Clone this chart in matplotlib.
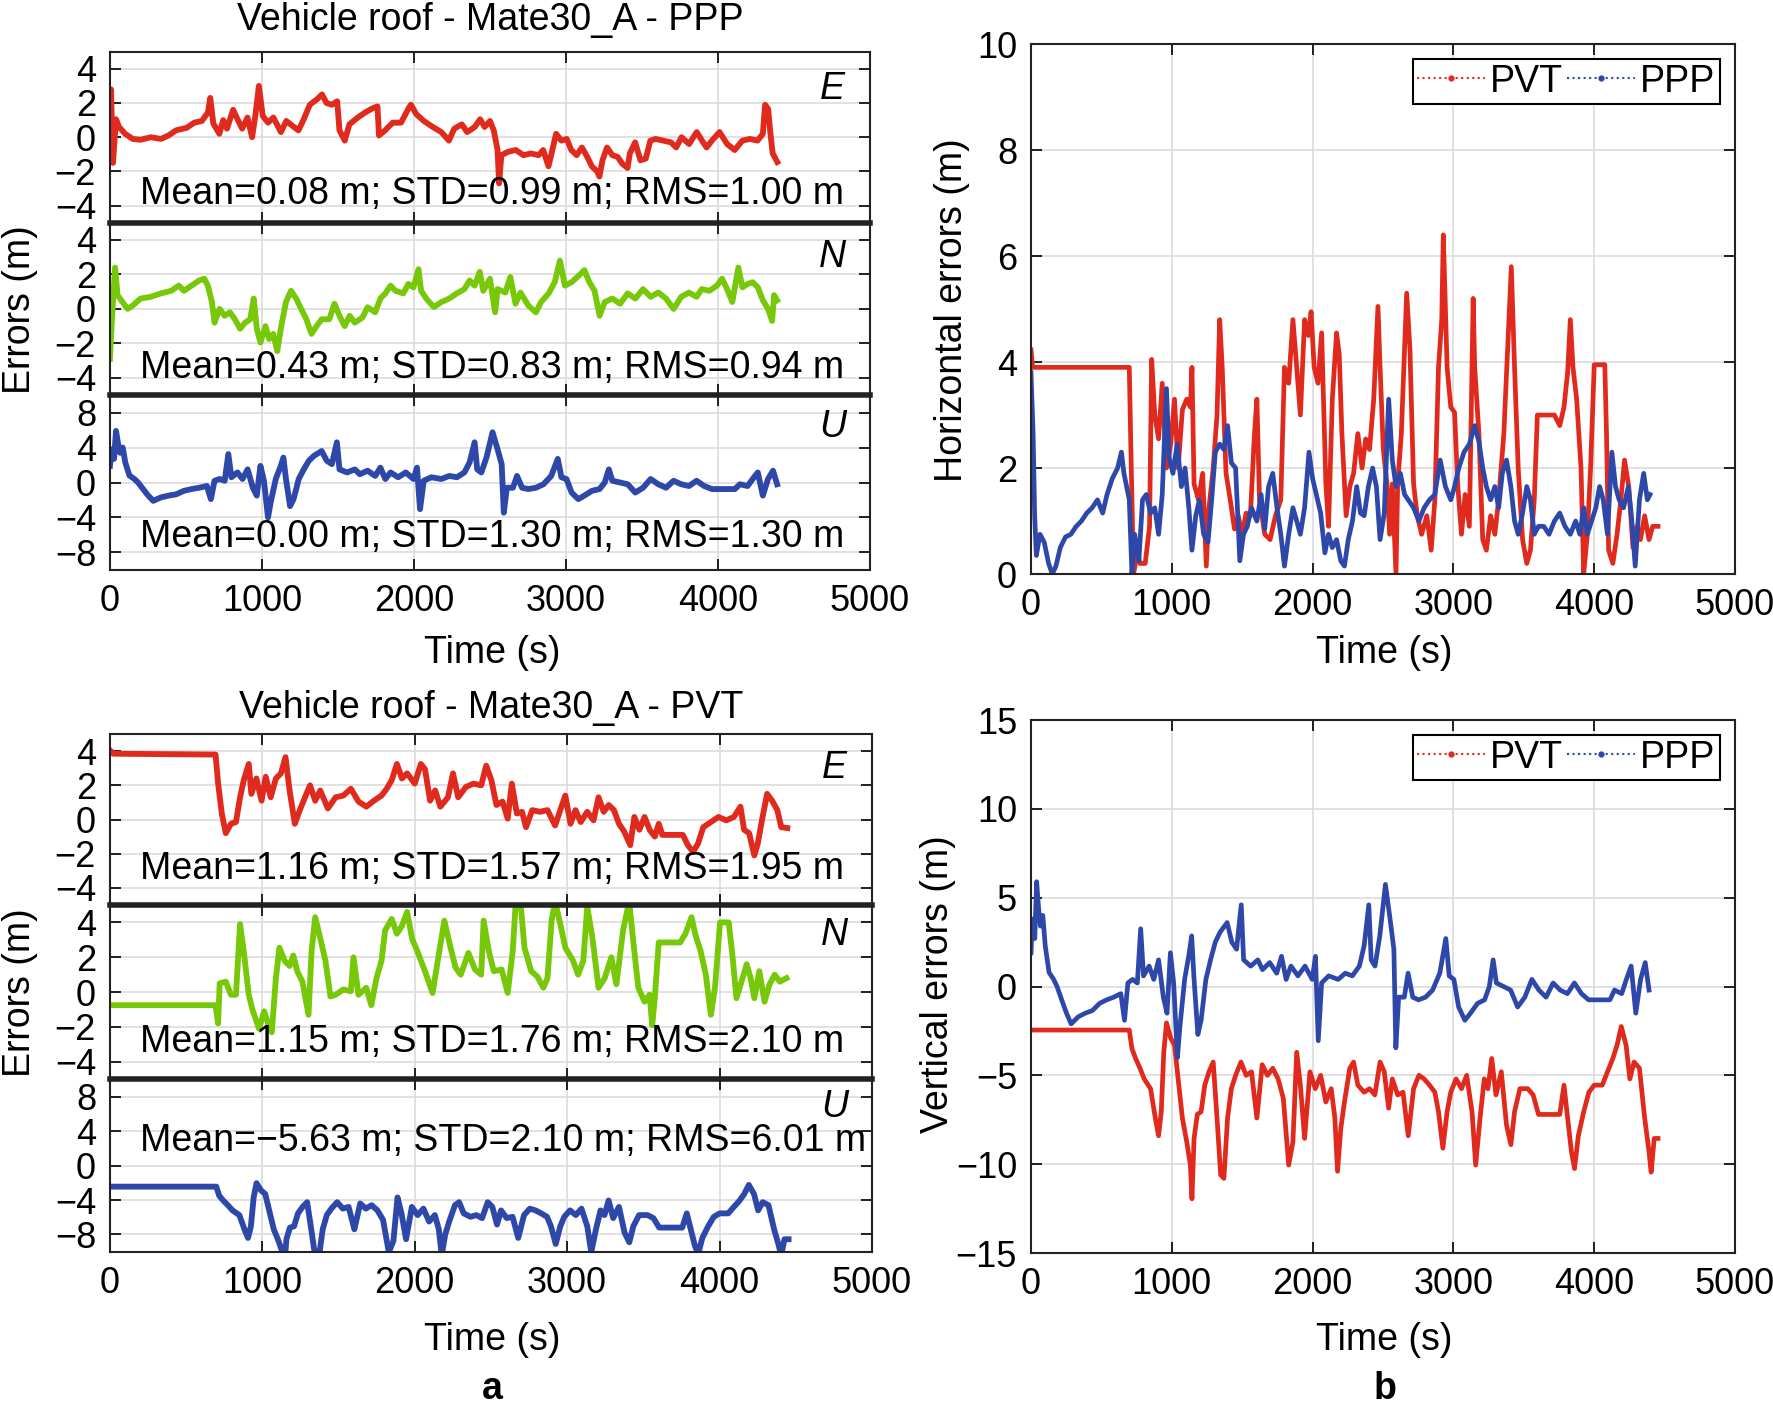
import matplotlib
matplotlib.use("Agg")
import matplotlib.pyplot as plt
from matplotlib.lines import Line2D

plt.rcParams["font.family"] = ["Liberation Sans", "DejaVu Sans"]
plt.rcParams["font.size"] = 27

# ---------------- data (time s, error m) ----------------
ppp_e = [(0, -0.2), (7, 2.8), (20, -1.5), (40, 1.05), (60, 0.6), (100, 0.2), (150, -0.1), (200, -0.15), (270, 0.0), (335, -0.1),
         (385, 0.1), (435, 0.4), (505, 0.55), (555, 0.85), (605, 0.95), (645, 1.45), (660, 2.3), (680, 0.8), (720, 0.2), (745, 1.0),
         (770, 0.5), (810, 1.6), (845, 0.95), (870, 0.5), (905, 1.15), (935, 0.0), (955, 1.15), (980, 3.0), (1005, 1.25), (1040, 0.85),
         (1075, 1.15), (1125, 0.3), (1160, 0.95), (1210, 0.6), (1240, 0.4), (1275, 1.05), (1315, 1.9), (1360, 2.2), (1395, 2.5), (1425, 2.0),
         (1460, 1.9), (1495, 2.1), (1510, 0.4), (1545, -0.2), (1575, 0.75), (1630, 1.15), (1680, 1.45), (1730, 1.7), (1760, 1.8), (1770, 0.1),
         (1810, 0.4), (1860, 0.85), (1915, 0.85), (1965, 1.7), (1980, 1.9), (2015, 1.35), (2065, 0.95), (2115, 0.65), (2180, 0.3), (2230, -0.2),
         (2265, 0.5), (2315, 0.75), (2350, 0.3), (2400, 0.6), (2435, 1.05), (2465, 0.6), (2500, 0.95), (2525, 0.4), (2550, -0.75), (2560, -2.7),
         (2575, -1.05), (2620, -0.85), (2670, -0.75), (2720, -1.05), (2770, -0.95), (2820, -1.05), (2850, -0.75), (2885, -1.7), (2905, -0.95), (2935, 0.2),
         (2970, -0.2), (3005, -0.1), (3035, -0.75), (3070, -1.05), (3105, -0.6), (3140, -1.15), (3170, -1.7), (3205, -2.0), (3220, -2.3), (3240, -1.35),
         (3270, -0.6), (3305, -1.05), (3340, -1.15), (3370, -1.55), (3405, -1.8), (3420, -0.95), (3455, -0.3), (3490, -1.35), (3525, -1.25), (3555, -0.2),
         (3590, -0.1), (3640, -0.2), (3690, -0.3), (3725, -0.6), (3760, 0.0), (3810, -0.4), (3860, 0.3), (3895, -0.2), (3925, -0.6), (3960, -0.2),
         (4010, 0.3), (4060, -0.4), (4110, -0.75), (4160, -0.2), (4210, -0.1), (4260, -0.2), (4295, 0.2), (4310, 1.9), (4330, 1.65), (4345, 0.2),
         (4360, -0.95), (4390, -1.45)]

ppp_n = [(0, -2.9), (10, -1.15), (20, 0.4), (34, 2.4), (50, 0.8), (74, 0.5), (117, 0.0), (151, 0.2), (201, 0.6), (268, 0.7),
         (336, 0.9), (403, 1.05), (453, 1.35), (487, 1.05), (537, 1.35), (587, 1.65), (621, 1.75), (644, 1.35), (671, 0.4), (688, -0.8),
         (721, 0.0), (755, -0.4), (789, -0.2), (822, -0.6), (856, -1.15), (889, -0.8), (923, -0.6), (946, 0.6), (966, -1.15), (990, -1.95),
         (1023, -1.0), (1047, -1.75), (1074, -1.45), (1101, -2.45), (1124, -1.15), (1158, 0.4), (1191, 1.05), (1225, 0.6), (1258, 0.0), (1292, -0.6),
         (1326, -1.45), (1359, -1.0), (1393, -0.6), (1443, -0.6), (1477, 0.3), (1510, -0.4), (1544, -1.0), (1577, -0.4), (1611, -0.8), (1661, -0.5),
         (1695, 0.1), (1745, -0.2), (1779, 0.6), (1812, 0.9), (1846, 1.35), (1879, 1.05), (1930, 0.9), (1963, 1.45), (1997, 1.25), (2030, 2.3),
         (2047, 1.05), (2081, 0.6), (2131, 0.1), (2181, 0.4), (2232, 0.6), (2282, 0.9), (2332, 1.15), (2366, 1.65), (2399, 1.35), (2433, 2.15),
         (2456, 1.05), (2500, 1.75), (2534, -0.2), (2550, 1.15), (2601, 0.95), (2634, 1.85), (2668, 0.3), (2701, 0.95), (2752, 0.2), (2802, -0.2),
         (2836, 0.4), (2886, 0.9), (2926, 1.55), (2960, 2.8), (2993, 1.35), (3037, 1.55), (3087, 1.95), (3121, 2.25), (3154, 1.55), (3188, 1.05),
         (3221, -0.4), (3255, 0.4), (3305, 0.6), (3356, 0.3), (3406, 0.9), (3456, 0.6), (3507, 1.15), (3557, 0.7), (3607, 0.95), (3658, 0.6),
         (3708, 0.0), (3758, 0.7), (3809, 0.95), (3859, 0.7), (3893, 1.15), (3943, 1.05), (3993, 1.35), (4027, 1.75), (4060, 1.15), (4094, 0.4),
         (4134, 2.4), (4161, 1.25), (4195, 1.45), (4228, 1.55), (4262, 1.25), (4295, 0.5), (4329, 0.0), (4356, -0.7), (4369, 0.8), (4389, 0.5)]

ppp_u = [(0, 1.9), (10, 3.8), (27, 2.7), (40, 5.9), (54, 4.4), (67, 3.4), (84, 4.0), (101, 2.3), (128, 0.8), (161, 0.4),
         (185, 0.0), (218, -0.75), (252, -1.5), (285, -2.1), (336, -1.7), (386, -1.5), (436, -1.35), (487, -0.95), (537, -0.75), (587, -0.6),
         (638, -0.4), (664, -1.9), (688, 0.2), (721, 0.4), (755, 0.2), (779, 3.25), (799, 0.6), (839, 1.15), (872, 0.4), (906, 1.5),
         (940, -0.6), (966, -1.5), (990, 1.9), (1013, 0.2), (1040, -4.0), (1057, -2.3), (1091, 0.4), (1124, 1.9), (1141, 2.85), (1158, 0.4),
         (1185, -2.7), (1208, -1.9), (1242, 0.4), (1275, 1.5), (1309, 2.5), (1342, 3.05), (1393, 3.6), (1426, 2.5), (1460, 2.1), (1493, 4.6),
         (1510, 1.5), (1560, 1.15), (1611, 1.5), (1644, 0.95), (1695, 1.35), (1745, 0.75), (1779, 1.7), (1812, 0.4), (1846, 1.15), (1896, 0.6),
         (1946, 1.15), (1997, 0.4), (2020, 1.7), (2040, -3.05), (2064, 0.2), (2114, 0.6), (2181, 0.4), (2232, 0.75), (2282, 0.6), (2332, 1.15),
         (2366, 2.3), (2399, 4.6), (2416, 1.5), (2443, 1.15), (2477, 2.85), (2517, 5.75), (2550, 3.8), (2577, 2.1), (2591, -3.45), (2611, -0.6),
         (2651, -0.6), (2678, 0.75), (2711, -0.6), (2752, -0.75), (2802, -0.6), (2852, -0.2), (2903, 0.75), (2946, 2.7), (2970, 0.6), (3003, 0.4),
         (3037, -1.15), (3081, -1.9), (3121, -1.5), (3171, -0.95), (3221, -0.75), (3255, 0.0), (3282, 1.5), (3305, 0.2), (3356, 0.0), (3406, -0.2),
         (3456, -1.15), (3507, -0.6), (3557, 0.4), (3607, -0.2), (3658, -0.6), (3708, 0.2), (3758, -0.2), (3809, -0.4), (3859, 0.2), (3909, -0.4),
         (3960, -0.75), (4010, -0.75), (4060, -0.75), (4111, -0.75), (4144, -0.2), (4195, -0.4), (4228, 0.4), (4262, 1.15), (4295, -1.5), (4329, 0.4),
         (4362, 1.35), (4389, -0.2)]

pvt_e = [(0, 4.05), (23, 3.85), (693, 3.8), (710, 2.1), (734, 0.35), (760, -0.8), (794, -0.25), (827, -0.15), (854, 1.3), (878, 2.3),
         (911, 3.25), (928, 1.5), (961, 2.4), (995, 1.1), (1022, 2.5), (1055, 1.3), (1089, 2.4), (1122, 2.7), (1152, 3.65), (1179, 1.7),
         (1213, -0.25), (1246, 0.55), (1280, 1.3), (1313, 2.0), (1347, 1.1), (1380, 1.7), (1430, 0.65), (1481, 1.3), (1531, 1.4), (1581, 1.8),
         (1631, 1.05), (1682, 0.75), (1732, 1.1), (1782, 1.4), (1816, 1.8), (1849, 2.3), (1883, 3.25), (1916, 2.4), (1950, 2.7), (2000, 2.1),
         (2040, 3.25), (2067, 2.95), (2101, 1.1), (2134, 1.7), (2168, 0.75), (2218, 1.3), (2251, 2.7), (2285, 1.3), (2335, 1.9), (2385, 2.1),
         (2436, 2.0), (2469, 3.15), (2503, 2.3), (2536, 0.85), (2576, 1.05), (2610, 0.05), (2637, 2.1), (2670, 0.35), (2704, 0.45), (2730, -0.45),
         (2771, 0.55), (2821, 0.45), (2871, 0.55), (2921, -0.35), (2955, 0.55), (2988, 1.4), (3022, -0.25), (3055, 0.55), (3089, -0.15), (3132, 0.45),
         (3173, -0.05), (3206, 1.3), (3240, 0.45), (3273, 0.85), (3307, 0.55), (3340, -0.25), (3374, -0.7), (3414, -1.5), (3441, 0.15), (3474, -0.6),
         (3508, 0.15), (3541, -0.6), (3575, -1.0), (3601, -0.25), (3625, -0.9), (3692, -0.9), (3759, -0.9), (3792, -1.5), (3826, -1.9), (3859, -1.4),
         (3893, -0.45), (3943, -0.15), (3993, 0.15), (4044, -0.05), (4094, 0.15), (4137, 0.75), (4161, -0.6), (4194, -0.8), (4228, -2.1), (4251, -1.4),
         (4278, -0.05), (4312, 1.5), (4345, 1.1), (4379, 0.55), (4405, -0.45), (4445, -0.5)]

pvt_n = [(0, -0.75), (693, -0.75), (710, -1.8), (720, 0.5), (760, 0.6), (794, -0.15), (827, -0.15), (854, 3.9), (878, 2.35), (911, -0.15),
         (935, -1.0), (978, -2.1), (1012, -1.1), (1045, -2.0), (1062, -2.3), (1089, 0.8), (1112, 2.55), (1146, 1.8), (1179, 1.5), (1203, 2.1),
         (1229, 1.2), (1263, 0.6), (1303, -1.3), (1323, 2.35), (1347, 4.3), (1380, 3.1), (1414, 1.8), (1447, -0.25), (1481, -0.15), (1531, 0.15),
         (1581, 0.05), (1598, 2.0), (1631, -0.15), (1682, 0.25), (1715, -0.75), (1749, 0.8), (1782, 1.8), (1806, 3.55), (1849, 4.2), (1883, 3.35),
         (1916, 3.8), (1950, 4.6), (1983, 3.05), (2017, 2.35), (2067, 1.2), (2117, -0.05), (2151, 1.8), (2194, 4.1), (2235, 2.55), (2268, 1.4),
         (2302, 1.0), (2352, 2.25), (2395, 1.3), (2436, 1.0), (2452, 4.1), (2486, 2.35), (2519, 1.2), (2570, 1.3), (2610, -0.05), (2643, 2.35),
         (2663, 5.2), (2697, 4.85), (2720, 2.55), (2764, 1.2), (2804, 0.9), (2844, 0.25), (2871, 0.8), (2898, 4.1), (2921, 5.2), (2955, 3.9),
         (2988, 2.55), (3039, 1.8), (3072, 1.0), (3106, 1.8), (3132, 4.9), (3166, 3.1), (3206, 0.25), (3246, 0.8), (3290, 2.0), (3323, 0.45),
         (3367, 3.55), (3407, 5.2), (3434, 2.9), (3467, 0.25), (3508, -0.55), (3541, -0.15), (3558, -1.9), (3575, -0.35), (3601, 2.85), (3742, 2.85),
         (3776, 3.35), (3816, 4.3), (3843, 3.25), (3876, 2.35), (3910, 1.0), (3926, -0.15), (3943, -1.3), (3970, 0.25), (4003, 4.0), (4060, 4.0),
         (4084, 2.15), (4111, -0.35), (4144, 0.6), (4178, 1.6), (4204, 0.8), (4228, -0.35), (4261, 1.2), (4295, -0.55), (4328, 0.45), (4362, 1.0),
         (4395, 0.6), (4439, 0.8)]

pvt_u = [(0, -2.45), (698, -2.45), (717, -3.5), (743, -4.05), (774, -4.6), (804, -5.2), (849, -5.75), (887, -7.6), (906, -8.4), (925, -7.05),
         (943, -3.7), (962, -2.05), (992, -2.9), (1019, -3.3), (1045, -5.2), (1075, -7.4), (1106, -8.75), (1132, -10.05), (1143, -11.95), (1158, -8.55),
         (1181, -7.2), (1208, -7.05), (1234, -5.55), (1264, -4.8), (1294, -4.25), (1321, -7.4), (1347, -10.6), (1370, -10.8), (1396, -7.4), (1423, -5.75),
         (1453, -5.0), (1491, -4.25), (1528, -5.0), (1566, -4.8), (1604, -7.4), (1642, -4.4), (1679, -5.0), (1717, -4.6), (1755, -5.2), (1792, -6.3),
         (1830, -10.05), (1860, -8.75), (1887, -3.7), (1913, -5.55), (1943, -8.55), (1981, -4.8), (2019, -5.75), (2057, -5.0), (2094, -6.5), (2132, -5.75),
         (2158, -7.4), (2177, -10.4), (2200, -8.0), (2226, -6.5), (2264, -4.6), (2291, -4.25), (2321, -5.55), (2366, -5.95), (2404, -5.75), (2442, -6.1),
         (2479, -4.25), (2509, -4.8), (2540, -6.85), (2566, -5.2), (2604, -6.1), (2642, -5.95), (2679, -8.4), (2717, -5.75), (2755, -5.0), (2792, -5.2),
         (2830, -5.55), (2868, -5.95), (2894, -7.05), (2925, -9.1), (2955, -7.05), (2981, -5.95), (3019, -5.2), (3057, -5.75), (3094, -5.0), (3132, -7.05),
         (3158, -10.05), (3189, -7.4), (3219, -5.2), (3245, -5.75), (3272, -4.05), (3302, -6.1), (3340, -4.8), (3377, -7.8), (3408, -8.9), (3434, -7.05),
         (3472, -5.75), (3528, -5.75), (3566, -6.1), (3604, -7.2), (3755, -7.2), (3785, -5.55), (3811, -7.4), (3838, -9.3), (3860, -10.25), (3887, -8.4),
         (3925, -7.05), (3962, -5.95), (4000, -5.55), (4057, -5.55), (4094, -4.8), (4132, -4.05), (4162, -3.3), (4192, -2.25), (4226, -3.3), (4253, -5.2),
         (4283, -4.25), (4321, -4.6), (4358, -7.4), (4389, -9.3), (4404, -10.45), (4426, -8.55), (4453, -8.55)]

pvt_h = [(0, 4.23), (11, 3.9), (698, 3.9), (709, 2.4), (728, 0.0), (755, 0.4), (774, 0.2), (811, 0.2), (842, 0.9), (857, 4.05),
         (879, 3.0), (906, 2.55), (932, 3.6), (962, 2.0), (992, 2.45), (1019, 3.3), (1045, 2.0), (1075, 3.1), (1106, 3.3), (1132, 3.15),
         (1143, 3.9), (1158, 1.7), (1189, 1.4), (1219, 1.9), (1245, 0.15), (1264, 1.25), (1294, 2.0), (1321, 3.0), (1340, 4.8), (1358, 3.9),
         (1385, 1.9), (1415, 1.4), (1445, 0.85), (1472, 1.1), (1498, 0.75), (1528, 1.15), (1558, 1.1), (1585, 2.55), (1604, 3.3), (1623, 1.4),
         (1660, 0.75), (1698, 0.65), (1736, 1.1), (1774, 1.4), (1800, 3.9), (1830, 3.6), (1860, 4.8), (1887, 3.9), (1913, 3.0), (1943, 4.8),
         (1970, 4.5), (1989, 4.95), (2011, 3.9), (2038, 3.6), (2064, 4.55), (2094, 1.7), (2113, 0.9), (2140, 3.3), (2170, 4.55), (2189, 4.15),
         (2208, 2.65), (2238, 1.1), (2264, 1.65), (2291, 1.9), (2321, 2.65), (2351, 2.0), (2377, 2.55), (2404, 2.35), (2434, 3.3), (2464, 5.05),
         (2479, 3.9), (2502, 2.35), (2528, 1.7), (2547, 0.75), (2566, 1.7), (2592, 0.0), (2604, 1.7), (2630, 2.65), (2653, 4.25), (2668, 5.3),
         (2691, 4.25), (2717, 1.7), (2743, 1.1), (2774, 0.75), (2811, 1.1), (2842, 0.45), (2868, 1.4), (2894, 3.9), (2917, 4.8), (2928, 6.4),
         (2955, 3.9), (2981, 3.15), (3008, 3.05), (3030, 1.7), (3057, 0.75), (3083, 1.5), (3113, 0.9), (3140, 5.2), (3151, 3.9), (3181, 2.65),
         (3208, 0.65), (3234, 0.45), (3264, 1.1), (3294, 0.75), (3321, 1.4), (3358, 2.65), (3385, 4.25), (3411, 5.8), (3434, 3.9), (3460, 2.0),
         (3491, 0.65), (3521, 0.2), (3547, 0.45), (3574, 1.4), (3596, 3.0), (3717, 3.0), (3755, 2.8), (3785, 3.15), (3811, 3.8), (3830, 4.8),
         (3849, 3.9), (3875, 3.3), (3906, 2.0), (3925, 0.0), (3951, 0.75), (3974, 2.0), (4000, 3.95), (4075, 3.95), (4087, 2.65), (4102, 0.45),
         (4132, 0.2), (4162, 0.75), (4189, 1.4), (4215, 2.15), (4245, 1.65), (4275, 0.5), (4302, 0.9), (4328, 0.65), (4358, 1.1), (4389, 0.65),
         (4415, 0.9), (4453, 0.9)]

ppp_h = [(0, 3.8), (15, 2.65), (26, 1.1), (38, 0.35), (64, 0.75), (94, 0.6), (125, 0.2), (151, 0.0), (177, 0.15), (208, 0.5),
         (245, 0.7), (283, 0.75), (321, 0.9), (358, 1.0), (396, 1.15), (434, 1.25), (472, 1.4), (509, 1.15), (540, 1.5), (577, 1.8),
         (615, 2.0), (642, 2.3), (660, 1.9), (679, 1.65), (698, 1.4), (717, 0.0), (736, 0.75), (766, 0.25), (792, 1.4), (819, 1.5),
         (849, 1.15), (879, 1.25), (906, 0.75), (932, 1.5), (962, 3.5), (981, 2.2), (1008, 1.9), (1038, 2.45), (1068, 1.65), (1094, 2.0),
         (1121, 1.25), (1143, 0.45), (1170, 1.1), (1196, 1.4), (1226, 0.75), (1257, 0.6), (1283, 1.4), (1309, 2.3), (1340, 2.45), (1370, 2.35),
         (1396, 2.8), (1423, 2.1), (1453, 2.0), (1483, 0.25), (1509, 0.75), (1536, 0.9), (1566, 1.25), (1604, 1.0), (1634, 1.5), (1660, 0.85),
         (1687, 1.65), (1717, 1.9), (1747, 1.25), (1774, 0.75), (1800, 0.15), (1830, 0.75), (1860, 1.25), (1887, 1.0), (1913, 0.75), (1943, 1.25),
         (1974, 2.3), (2000, 1.8), (2026, 1.5), (2057, 1.15), (2087, 0.4), (2113, 0.75), (2140, 0.5), (2170, 0.65), (2200, 0.25), (2226, 0.15),
         (2253, 0.65), (2283, 1.0), (2313, 1.65), (2340, 1.15), (2366, 1.1), (2396, 1.65), (2426, 2.0), (2453, 1.65), (2479, 0.65), (2509, 1.15),
         (2540, 3.3), (2566, 2.15), (2592, 1.65), (2623, 1.9), (2653, 1.5), (2679, 1.4), (2717, 1.25), (2755, 1.0), (2792, 1.25), (2830, 1.4),
         (2868, 1.5), (2906, 2.15), (2943, 1.65), (2981, 1.4), (3008, 1.65), (3038, 2.0), (3075, 2.3), (3113, 2.45), (3151, 2.8), (3181, 2.5),
         (3208, 2.0), (3234, 1.65), (3264, 1.4), (3294, 1.65), (3321, 1.25), (3347, 1.9), (3377, 2.15), (3408, 1.65), (3434, 1.0), (3460, 0.75),
         (3491, 1.15), (3521, 1.65), (3547, 1.4), (3574, 0.75), (3604, 0.9), (3642, 0.9), (3679, 0.75), (3717, 1.0), (3755, 1.15), (3792, 0.9),
         (3830, 0.75), (3868, 1.0), (3898, 0.75), (3925, 1.25), (3951, 0.75), (3981, 1.0), (4011, 1.25), (4038, 1.65), (4064, 1.4), (4094, 0.75),
         (4125, 2.3), (4151, 1.65), (4177, 1.4), (4208, 1.25), (4242, 1.65), (4264, 1.1), (4291, 0.15), (4321, 1.4), (4351, 1.9), (4377, 1.4),
         (4396, 1.5)]

ppp_stats = ["Mean=0.08 m; STD=0.99 m; RMS=1.00 m",
             "Mean=0.43 m; STD=0.83 m; RMS=0.94 m",
             "Mean=0.00 m; STD=1.30 m; RMS=1.30 m"]
pvt_stats = ["Mean=1.16 m; STD=1.57 m; RMS=1.95 m",
             "Mean=1.15 m; STD=1.76 m; RMS=2.10 m",
             "Mean=\u22125.63 m; STD=2.10 m; RMS=6.01 m"]
components = ["E", "N", "U"]

red = "#e02a1e"
green = "#78c80a"
blue = "#2e48aa"
gridc = "#dcdcdc"


def style(ax):
    ax.grid(True, color=gridc, lw=1.2)
    ax.set_axisbelow(True)
    ax.tick_params(direction="in", top=True, right=True, length=8, width=1.2, labelsize=26, pad=10)
    for s in ax.spines.values():
        s.set_linewidth(1.5)
        s.set_color("#222222")


def stack(fig, left, right, bounds, series, stats, stat_y, letter_y, title, title_y):
    axes = []
    for i in range(3):
        top, bot = bounds[i], bounds[i + 1]
        ax = fig.add_axes([left, bot, right - left, top - bot])
        t, v = zip(*series[i][0])
        ax.plot(t, v, color=series[i][1], lw=4.2, solid_joinstyle="round")
        ax.set_xlim(0, 5000)
        ax.set_xticks([0, 1000, 2000, 3000, 4000, 5000])
        if i < 2:
            ax.set_ylim(-5, 5)
            ax.set_yticks([-4, -2, 0, 2, 4])
        else:
            ax.set_ylim(-10, 10)
            ax.set_yticks([-8, -4, 0, 4, 8])
        style(ax)
        if i > 0:
            ax.spines["top"].set_linewidth(4)
        if i < 2:
            ax.tick_params(labelbottom=False)
        ax.text(0.039, stat_y[i], stats[i], transform=ax.transAxes, ha="left", va="center", fontsize=27)
        ax.text(0.951, letter_y[i], components[i], transform=ax.transAxes, ha="center", va="center",
                fontsize=27, style="italic")
        axes.append(ax)
    fig.text((left + right) / 2, title_y, title, ha="center", va="center", fontsize=27)
    return axes


fig = plt.figure(figsize=(17.73, 14.16), dpi=100)

# ---------------- a: component errors ----------------
stack(fig, 0.062, 0.4907, [0.9635, 0.8427, 0.7210, 0.5975],
      [(ppp_e, red), (ppp_n, green), (ppp_u, blue)], ppp_stats,
      [0.17, 0.155, 0.19], [0.78, 0.80, 0.82],
      "Vehicle roof - Mate30_A - PPP", 0.9856)
stack(fig, 0.062, 0.4918, [0.4816, 0.3609, 0.2378, 0.1160],
      [(pvt_e, red), (pvt_n, green), (pvt_u, blue)], pvt_stats,
      [0.21, 0.215, 0.645], [0.80, 0.83, 0.84],
      "Vehicle roof - Mate30_A - PVT", 0.5)

fig.text(0.0115, 0.781, "Errors (m)", rotation=90, ha="center", va="center", fontsize=27)
fig.text(0.0115, 0.299, "Errors (m)", rotation=90, ha="center", va="center", fontsize=27)
fig.text(0.2775, 0.5385, "Time (s)", ha="center", va="center", fontsize=27)
fig.text(0.2775, 0.0537, "Time (s)", ha="center", va="center", fontsize=27)

# ---------------- b: horizontal / vertical errors ----------------
handles = [Line2D([], [], color=red, ls=":", lw=1.5, marker=".", ms=7),
           Line2D([], [], color=blue, ls=":", lw=1.5, marker=".", ms=7)]

axh = fig.add_axes([0.5815, 0.5946, 0.9786 - 0.5815, 0.9689 - 0.5946])
t, v = zip(*pvt_h)
axh.plot(t, v, color=red, lw=3.4, solid_joinstyle="round")
t, v = zip(*ppp_h)
axh.plot(t, v, color=blue, lw=3.4, solid_joinstyle="round")
axh.set_xlim(0, 5000)
axh.set_ylim(0, 10)
axh.set_xticks([0, 1000, 2000, 3000, 4000, 5000])
axh.set_yticks([0, 2, 4, 6, 8, 10])
style(axh)

axv = fig.add_axes([0.5815, 0.1151, 0.9786 - 0.5815, 0.4915 - 0.1151])
t, v = zip(*pvt_u)
axv.plot(t, v, color=red, lw=3.4, solid_joinstyle="round")
t, v = zip(*ppp_u)
axv.plot(t, v, color=blue, lw=3.4, solid_joinstyle="round")
axv.set_xlim(0, 5000)
axv.set_ylim(-15, 15)
axv.set_xticks([0, 1000, 2000, 3000, 4000, 5000])
axv.set_yticks([-15, -10, -5, 0, 5, 10, 15])
style(axv)

for ax in (axh, axv):
    leg = ax.legend(handles, ["PVT", "PPP"], loc="upper right", ncol=2, fontsize=27,
                    frameon=True, fancybox=False, edgecolor="black", framealpha=1,
                    borderpad=0.12, handlelength=1.8, handletextpad=0.15, columnspacing=0.1,
                    borderaxespad=0.4)
    leg.get_frame().set_linewidth(1.5)

fig.text(0.537, 0.781, "Horizontal errors (m)", rotation=90, ha="center", va="center", fontsize=27)
fig.text(0.529, 0.305, "Vertical errors (m)", rotation=90, ha="center", va="center", fontsize=27)
fig.text(0.781, 0.5385, "Time (s)", ha="center", va="center", fontsize=27)
fig.text(0.781, 0.0537, "Time (s)", ha="center", va="center", fontsize=27)

fig.text(0.2775, 0.0194, "a", ha="center", va="center", fontsize=27, fontweight="bold")
fig.text(0.781, 0.0194, "b", ha="center", va="center", fontsize=27, fontweight="bold")

fig.savefig("out.png", dpi=100)
